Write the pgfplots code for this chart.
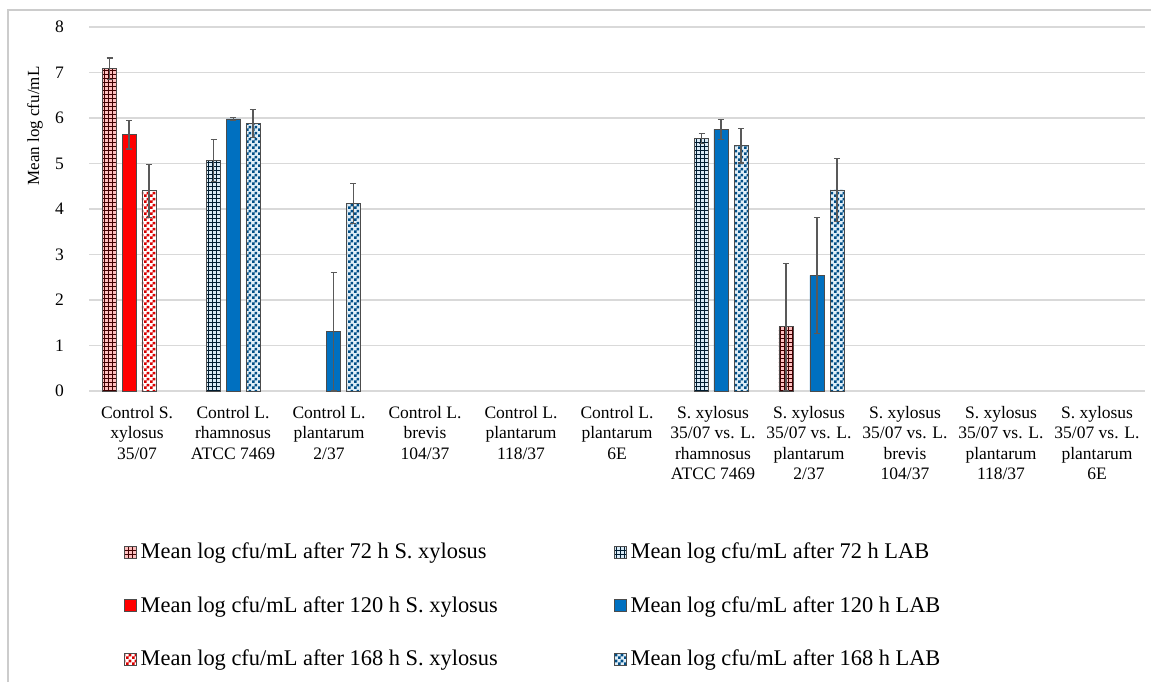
\documentclass[border=0pt]{standalone}
\usepackage{fontspec}
\setmainfont{Liberation Serif}
\usepackage{pgfplots}
\usepackage{pgfplotstable}
\pgfplotsset{compat=1.18}
\usetikzlibrary{patterns}
\definecolor{sxred}{HTML}{FF0000}
\definecolor{labblue}{HTML}{0070C0}
\definecolor{gridgray}{HTML}{D9D9D9}
\pgfdeclarepatternformonly{mygrid}{\pgfqpoint{-1pt}{-1pt}}{\pgfqpoint{3pt}{3pt}}{\pgfqpoint{2pt}{2pt}}{%
  \pgfsetlinewidth{0.35pt}%
  \pgfpathmoveto{\pgfqpoint{0pt}{0pt}}\pgfpathlineto{\pgfqpoint{2.01pt}{0pt}}%
  \pgfpathmoveto{\pgfqpoint{0pt}{0pt}}\pgfpathlineto{\pgfqpoint{0pt}{2.01pt}}%
  \pgfusepath{stroke}}
\pgfdeclarepatternformonly{mycheck}{\pgfpointorigin}{\pgfqpoint{3pt}{3pt}}{\pgfqpoint{3pt}{3pt}}{%
  \pgfpathrectangle{\pgfpointorigin}{\pgfqpoint{1.5pt}{1.5pt}}%
  \pgfpathrectangle{\pgfqpoint{1.5pt}{1.5pt}}{\pgfqpoint{1.5pt}{1.5pt}}%
  \pgfusepath{fill}}

\pgfplotstableread{
x y e
-0.284 7.08 0.24
6.760 1.41 1.40
}\sxA
\pgfplotstableread{
x y e
-0.083 5.63 0.31
}\sxB
\pgfplotstableread{
x y e
0.125 4.40 0.58
}\sxC
\pgfplotstableread{
x y e
0.799 5.07 0.46
5.882 5.55 0.11
}\labA
\pgfplotstableread{
x y e
1.003 5.98 0.03
2.049 1.30 1.30
6.083 5.75 0.22
7.083 2.54 1.28
}\labB
\pgfplotstableread{
x y e
1.208 5.88 0.31
2.253 4.12 0.44
6.292 5.39 0.38
7.292 4.42 0.69
}\labC

\begin{document}
\begin{tikzpicture}[x=0.5pt,y=0.5pt]
\useasboundingbox (0,0) rectangle (1151,682);
\draw[gray!40, line width=0.6pt] (8,0) -- (8,672) -- (1151,672);
\begin{axis}[
  at={(44.5pt,145.5pt)}, anchor=south west,
  scale only axis, width=528pt, height=182pt,
  xmin=-0.5, xmax=10.5, ymin=0, ymax=8,
  ytick={0,1,...,8},
  xtick={0,1,...,10},
  xticklabels={
    {Control S.\\xylosus\\35/07},
    {Control L.\\rhamnosus\\ATCC 7469},
    {Control L.\\plantarum\\2/37},
    {Control L.\\brevis\\104/37},
    {Control L.\\plantarum\\118/37},
    {Control L.\\plantarum\\6E},
    {S. xylosus\\35/07 vs. L.\\rhamnosus\\ATCC 7469},
    {S. xylosus\\35/07 vs. L.\\plantarum\\2/37},
    {S. xylosus\\35/07 vs. L.\\brevis\\104/37},
    {S. xylosus\\35/07 vs. L.\\plantarum\\118/37},
    {S. xylosus\\35/07 vs. L.\\plantarum\\6E}},
  xticklabel style={align=center, font=\fontsize{8.75}{10.25}\selectfont, yshift=-4pt},
  yticklabel style={font=\fontsize{8.75}{10.25}\selectfont, xshift=-9pt},
  /pgf/number format/assume math mode=true,
  axis line style={draw=none},
  major tick length=0pt,
  tick style={draw=none},
  ymajorgrids,
  grid style={gridgray, line width=0.75pt},
  ybar,
  bar width=0.146,
  legend image code/.code={\draw[#1, draw=black!70, line width=0.4pt] (0pt,-3pt) rectangle (6pt,3pt);},
  legend columns=2,
  legend cell align=left,
  legend style={draw=none, fill=none, at={(0.027,-0.395)}, anchor=north west,
    font=\fontsize{11.2}{13}\selectfont, row sep=13.25pt,
    /tikz/every even column/.append style={column sep=56pt}},
  error bars/y dir=both,
  error bars/y explicit,
  error bars/error bar style={black!65, line width=0.6pt},
  error bars/error mark options={black!65, line width=0.6pt, mark size=1.5pt, rotate=90},
]
\addplot[bar shift=0pt, draw=black!70, line width=0.4pt, fill=sxred!25, postaction={pattern=mygrid, pattern color=black!75!sxred}]
  table[x=x, y=y, y error=e] {\sxA};
\addlegendentry{Mean log cfu/mL after 72 h S. xylosus}
\addplot[bar shift=0pt, draw=black!70, line width=0.4pt, fill=labblue!15, postaction={pattern=mygrid, pattern color=black!75!labblue}]
  table[x=x, y=y, y error=e] {\labA};
\addlegendentry{Mean log cfu/mL after 72 h LAB}
\addplot[bar shift=0pt, draw=black!70, line width=0.4pt, fill=sxred]
  table[x=x, y=y, y error=e] {\sxB};
\addlegendentry{Mean log cfu/mL after 120 h S. xylosus}
\addplot[bar shift=0pt, draw=black!70, line width=0.4pt, fill=labblue]
  table[x=x, y=y, y error=e] {\labB};
\addlegendentry{Mean log cfu/mL after 120 h LAB}
\addplot[bar shift=0pt, draw=black!70, line width=0.4pt, fill=white, postaction={pattern=mycheck, pattern color=sxred!85!black}]
  table[x=x, y=y, y error=e] {\sxC};
\addlegendentry{Mean log cfu/mL after 168 h S. xylosus}
\addplot[bar shift=0pt, draw=black!70, line width=0.4pt, fill=labblue!12, postaction={pattern=mycheck, pattern color=labblue!70!black}]
  table[x=x, y=y, y error=e] {\labC};
\addlegendentry{Mean log cfu/mL after 168 h LAB}
\end{axis}
\node[rotate=90, font=\fontsize{8.5}{10}\selectfont] at (35,556) {Mean log cfu/mL};
\end{tikzpicture}
\end{document}
